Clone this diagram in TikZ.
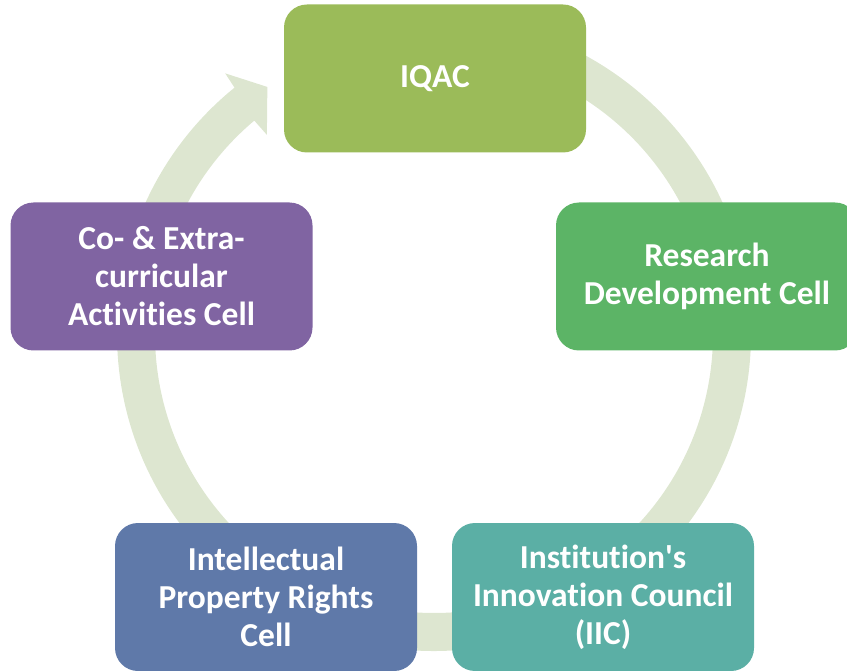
\documentclass[tikz,border=0pt]{standalone}
\usepackage{fontspec}
\setmainfont{Carlito}[Ligatures={NoCommon}]
\usetikzlibrary{calc}
\definecolor{arcfill}{HTML}{DDE6D0}
\definecolor{cIQAC}{HTML}{9BBB59}
\definecolor{cRDC}{HTML}{5CB466}
\definecolor{cIIC}{HTML}{5BAFA5}
\definecolor{cIPR}{HTML}{5F79A9}
\definecolor{cCO}{HTML}{8064A2}
\tikzset{
  cellbox/.style={rounded corners=23pt, minimum width=302pt, minimum height=148pt,
    text=white, align=center, inner sep=0pt,
    font=\fontsize{33.5}{38}\selectfont\bfseries}
}
\begin{document}
\begin{tikzpicture}[x=1pt,y=-1pt]
\useasboundingbox (0,0) rectangle (847,671);
\clip (0,0) rectangle (847,671);
\coordinate (c) at (434,334);
% circular arrow
\fill[arcfill] ($(c)+(-95:317)$) arc[start angle=-95,end angle=231,radius=317]
  -- ($(c)+(231.3:334)$) -- ($(c)+(236:298)$) -- ($(c)+(230:260)$)
  -- ($(c)+(229.9:279)$) arc[start angle=229.9,end angle=-95,radius=279] -- cycle;
% boxes
\node[cellbox, fill=cIQAC] (iqac) at (435,78.5) {IQAC};
\node[cellbox, fill=cRDC] (rdc) at (707,276.5) {Research\\Development Cell};
\node[cellbox, fill=cIIC] (iic) at (603,597) {Institution\textquotesingle s\\Innovation Council\\(IIC)};
\node[cellbox, fill=cIPR] (ipr) at (266,597) {Intellectual\\Property Rights\\Cell};
\node[cellbox, fill=cCO] (co) at (161.5,276.5) {Co- \& Extra-\\curricular\\Activities Cell};
\end{tikzpicture}
\end{document}
